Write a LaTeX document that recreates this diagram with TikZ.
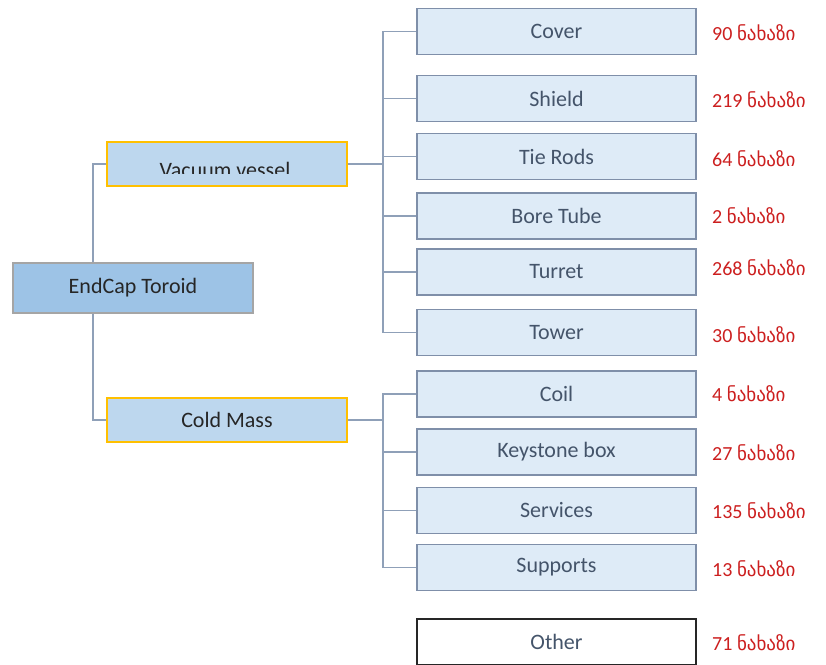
\documentclass[tikz,border=0pt]{standalone}
\usepackage{fontspec}
\setmainfont{Carlito}
\newfontfamily\geofont{DejaVu Sans}
\usetikzlibrary{positioning}

\definecolor{rootfill}{HTML}{9DC3E6}
\definecolor{rootdraw}{HTML}{A5A5A5}
\definecolor{groupfill}{HTML}{BDD7EE}
\definecolor{groupdraw}{HTML}{FFC000}
\definecolor{partfill}{HTML}{DEEBF7}
\definecolor{partdraw}{HTML}{7F8FA9}
\definecolor{linkcol}{HTML}{8FA0B8}
\definecolor{parttext}{HTML}{44546A}
\definecolor{countcol}{HTML}{CC1F1F}

\newcommand{\nakh}[1]{#1 {\geofont\fontsize{19}{22}\selectfont ნახაზი}}

\tikzset{
  rootbox/.style={draw=rootdraw,fill=rootfill,line width=1.5pt,minimum width=240pt,minimum height=50pt,inner sep=0pt,text=black!85,font=\fontsize{22}{26}\selectfont},
  groupbox/.style={draw=groupdraw,fill=groupfill,line width=1.5pt,minimum width=240pt,minimum height=44pt,inner sep=0pt,text=black!85,font=\fontsize{22}{26}\selectfont},
  partbox/.style={draw=partdraw,fill=partfill,line width=1.5pt,minimum width=279pt,minimum height=46pt,inner sep=0pt,text=parttext,font=\fontsize{22}{26}\selectfont},
  otherbox/.style={partbox,draw=black!85,fill=white},
  count/.style={anchor=west,text=countcol,inner sep=0pt,font=\fontsize{20}{24}\selectfont},
  link/.style={draw=linkcol,line width=1.6pt}
}

\begin{document}
\begin{tikzpicture}[x=1pt,y=-1pt]
  \useasboundingbox (0,0) rectangle (826,664);

  % left part
  \node[rootbox] (toroid) at (133,288) {EndCap Toroid};
  \node[groupbox] (vessel) at (227,164) {};
  \begin{scope}
    \clip (107,142) rectangle (347,173);
    \node[text=black!85,font=\fontsize{22}{26}\selectfont] (vesseltext) at (225,170) {Vacuum vessel};
  \end{scope}
  \node[groupbox] (coldmass) at (227,420) {Cold Mass};

  % parts
  \node[partbox] (cover)    at (556.5,31.5)  {Cover};
  \node[partbox] (shield)   at (556.5,98.5)  {Shield};
  \node[partbox] (tierods)  at (556.5,156.5) {Tie Rods};
  \node[partbox] (boretube) at (556.5,216)   {Bore Tube};
  \node[partbox] (turret)   at (556.5,272)   {Turret};
  \node[partbox] (tower)    at (556.5,332.5) {Tower};
  \node[partbox] (coil)     at (556.5,394)   {Coil};
  \node[partbox] (keystone) at (556.5,452)   {Keystone box};
  \node[partbox] (services) at (556.5,510.5) {Services};
  \node[partbox] (supports) at (556.5,567.5) {Supports};
  \node[otherbox] (other)   at (556.5,642)   {Other};

  % counts
  \node[count] (ncover)    at (712,33)  {\nakh{90}};
  \node[count] (nshield)   at (712,100) {\nakh{219}};
  \node[count] (ntierods)  at (712,159) {\nakh{64}};
  \node[count] (nboretube) at (712,216) {\nakh{2}};
  \node[count] (nturret)   at (712,268) {\nakh{268}};
  \node[count] (ntower)    at (712,335) {\nakh{30}};
  \node[count] (ncoil)     at (712,394) {\nakh{4}};
  \node[count] (nkeystone) at (712,453) {\nakh{27}};
  \node[count] (nservices) at (712,511) {\nakh{135}};
  \node[count] (nsupports) at (712,569) {\nakh{13}};
  \node[count] (nother)    at (712,643) {\nakh{71}};

  % connectors
  \draw[link] ([xshift=-40pt]toroid.north) |- (vessel.west);
  \draw[link] ([xshift=-40pt]toroid.south) |- (coldmass.west);

  \coordinate (vbus) at ([xshift=35pt]vessel.east);
  \draw[link] (vessel.east) -- (vbus);
  \draw[link] (vbus) |- (cover.west);
  \draw[link] (vbus) |- (shield.west);
  \draw[link] (vbus) |- (tierods.west);
  \draw[link] (vbus) |- (boretube.west);
  \draw[link] (vbus) |- (turret.west);
  \draw[link] (vbus) |- (tower.west);

  \coordinate (cbus) at ([xshift=35pt]coldmass.east);
  \draw[link] (coldmass.east) -- (cbus);
  \draw[link] (cbus) |- (coil.west);
  \draw[link] (cbus) |- (keystone.west);
  \draw[link] (cbus) |- (services.west);
  \draw[link] (cbus) |- (supports.west);
\end{tikzpicture}
\end{document}
